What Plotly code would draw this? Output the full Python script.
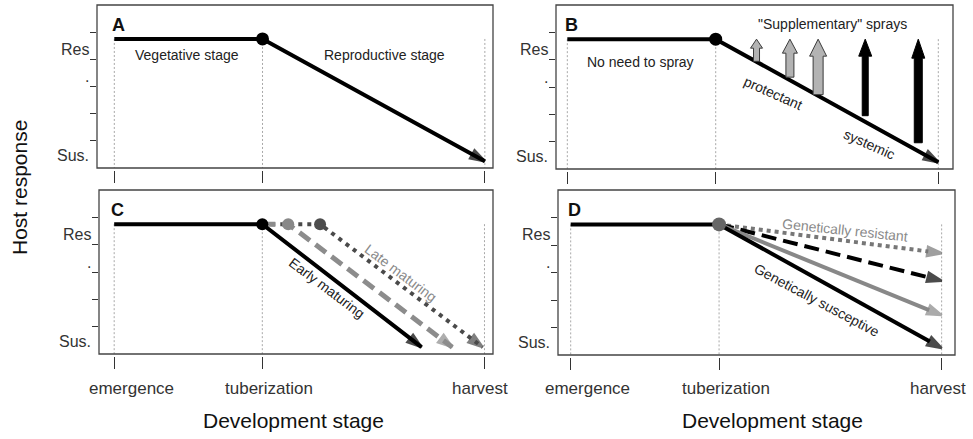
import plotly.graph_objects as go

W, H = 973, 439

# ---------------- data ----------------
stage_labels = ["emergence", "tuberization", "harvest"]
stage_x = [0, 40, 100]
level_labels = ["Res", ".", "Sus."]
level_y = [4.38, 3.35, 0.47]
y_ticks = [1, 2, 3, 4, 5]
RES = 4.75
SUS = 0.25

# Panel A
a_x = [0, 40, 100]
a_y = [RES, RES, SUS]

# Panel B
b_x = [0, 40, 100]
b_y = [RES, RES, SUS]
spray_x = [51, 60, 67.6, 80.3, 94.6]
spray_base = [3.94, 3.36, 2.72, 1.95, 0.96]
spray_top = [4.75, 4.75, 4.75, 4.75, 4.75]
spray_kind = ["protectant", "protectant", "protectant", "systemic", "systemic"]

# Panel C
c_early_x = [0, 40, 83]
c_early_y = [RES, RES, SUS]
c_mid_x = [40, 47, 91.3]
c_mid_y = [RES, RES, SUS]
c_late_x = [40, 55.6, 99.5]
c_late_y = [RES, RES, SUS]

# Panel D
d_base_x = [0, 40]
d_base_y = [RES, RES]
d_end_x = 100
d_end_y = [3.7, 2.7, 1.45, 0.25]   # resistant ... susceptive

# ---------------- layout helpers ----------------
FONT = "Liberation Sans, Arial, sans-serif"
TXT = "#222222"

panels = {
    "A": dict(px=(97, 493), py=(5, 168), xr=(-4.67, 102.2), xa="x", ya="y"),
    "B": dict(px=(556, 953), py=(5, 169), xr=(-3.05, 103.96), xa="x2", ya="y2"),
    "C": dict(px=(99, 493), py=(190, 354), xr=(-4.1, 102.3), xa="x3", ya="y3"),
    "D": dict(px=(558, 955), py=(190, 355), xr=(-3.42, 103.6), xa="x4", ya="y4"),
}
YR = (0, 6)

fig = go.Figure()
layout = dict(width=W, height=H, margin=dict(l=0, r=0, t=0, b=0),
              paper_bgcolor="white", plot_bgcolor="white", showlegend=False,
              font=dict(family=FONT, color=TXT))
shapes = []
annotations = []

for name, p in panels.items():
    xk = "xaxis" + p["xa"][1:]
    yk = "yaxis" + p["ya"][1:]
    xd = [p["px"][0] / W, p["px"][1] / W]
    yd = [1 - p["py"][1] / H, 1 - p["py"][0] / H]
    layout[xk] = dict(domain=xd, range=list(p["xr"]), anchor="free",
                      position=1 - (p["py"][1] + 2) / H,
                      showgrid=False, zeroline=False, showline=False,
                      ticks="outside", ticklen=12, tickwidth=1, tickcolor="#333",
                      tickvals=stage_x, showticklabels=False, fixedrange=True)
    layout[yk] = dict(domain=yd, range=list(YR), anchor=p["xa"],
                      showgrid=False, zeroline=False, showline=False,
                      ticks="outside", ticklen=6, tickwidth=1, tickcolor="#333",
                      tickvals=y_ticks, showticklabels=False, fixedrange=True)
    shapes.append(dict(type="rect", xref=p["xa"] + " domain", yref=p["ya"] + " domain",
                       x0=0, x1=1, y0=0, y1=1, line=dict(color="#444", width=1.3),
                       layer="above"))
    # y level labels
    for lab, yv in zip(level_labels, level_y):
        annotations.append(dict(text=lab, xref=p["xa"] + " domain", x=0, yref=p["ya"], y=yv,
                                xanchor="right", yanchor="middle", xshift=-6, showarrow=False,
                                font=dict(size=16, color="#333")))
    # vertical guide lines at the stages
    gx, gy = [], []
    for s in stage_x:
        gx += [s, s, None]
        gy += [RES, YR[0], None]
    fig.add_trace(go.Scatter(x=gx, y=gy, xaxis=p["xa"], yaxis=p["ya"], mode="lines",
                             line=dict(color="#a8a8a8", width=1, dash="2px,2px"),
                             hoverinfo="skip"))
    # panel letter
    annotations.append(dict(text="<b>%s</b>" % name, xref=p["xa"], yref=p["ya"],
                            x=1.0, y=5.28, xanchor="center", yanchor="middle",
                            showarrow=False, font=dict(size=18, color="#111")))


def arrow_line(x, y, color, width, dash, xa, ya, head=15):
    sizes = [0] * (len(x) - 1) + [head]
    fig.add_trace(go.Scatter(
        x=x, y=y, xaxis=xa, yaxis=ya, mode="lines+markers",
        line=dict(color=color, width=width, dash=dash),
        marker=dict(symbol="arrow", size=sizes, angleref="previous", color=color,
                    line=dict(color=color, width=2.5)),
        hoverinfo="skip"))


def dot(x, y, color, xa, ya, size=13):
    fig.add_trace(go.Scatter(x=[x], y=[y], xaxis=xa, yaxis=ya, mode="markers",
                             marker=dict(symbol="circle", size=size, color=color),
                             hoverinfo="skip"))


def px_to_dx(p, n):
    return n * (p["xr"][1] - p["xr"][0]) / (p["px"][1] - p["px"][0])


def px_to_dy(p, n):
    return n * (YR[1] - YR[0]) / (p["py"][1] - p["py"][0])


def note(text, xa, ya, x, y, angle=0, color=TXT, size=14):
    annotations.append(dict(text=text, xref=xa, yref=ya, x=x, y=y, textangle=angle,
                            xanchor="center", yanchor="middle", showarrow=False,
                            font=dict(size=size, color=color)))


# ---------------- Panel A ----------------
arrow_line(a_x, a_y, "black", 4, "solid", "x", "y")
dot(a_x[1], a_y[1], "black", "x", "y")
note("Vegetative stage", "x", "y", 19.6, 4.16)
note("Reproductive stage", "x", "y", 73, 4.16)

# ---------------- Panel B ----------------
pB = panels["B"]
arrow_line(b_x, b_y, "black", 4, "solid", "x2", "y2")
dot(b_x[1], b_y[1], "black", "x2", "y2")
# (shaft half-width, head half-width, head length) in px
spray_style = [(3, 6, 9), (4, 7.5, 14), (5, 8.5, 17), (3, 6.5, 17), (4, 6.5, 19)]
for xc, yb, yt, kind, (hw, hh, hl) in zip(spray_x, spray_base, spray_top, spray_kind, spray_style):
    dhw, dhh, dhl = px_to_dx(pB, hw), px_to_dx(pB, hh), px_to_dy(pB, hl)
    xs = [xc - dhw, xc - dhw, xc - dhh, xc, xc + dhh, xc + dhw, xc + dhw, xc - dhw]
    ys = [yb, yt - dhl, yt - dhl, yt, yt - dhl, yt - dhl, yb, yb]
    grey = kind == "protectant"
    fig.add_trace(go.Scatter(x=xs, y=ys, xaxis="x2", yaxis="y2", mode="lines",
                             fill="toself", fillcolor="#b3b3b3" if grey else "black",
                             line=dict(color="#3a3a3a" if grey else "black", width=1),
                             hoverinfo="skip"))
note("No need to spray", "x2", "y2", 19.6, 3.9)
note("\"Supplementary\" sprays", "x2", "y2", 71.6, 5.29)
note("protectant", "x2", "y2", 55.4, 2.78, angle=24)
note("systemic", "x2", "y2", 81.3, 0.9, angle=24)

# ---------------- Panel C ----------------
arrow_line(c_late_x, c_late_y, "#4a4a4a", 4, "4px,5px", "x3", "y3")
arrow_line(c_mid_x, c_mid_y, "#8c8c8c", 5, "13px,7px", "x3", "y3")
arrow_line(c_early_x, c_early_y, "black", 4, "solid", "x3", "y3")
dot(c_early_x[1], c_early_y[1], "black", "x3", "y3", 12)
dot(c_mid_x[1], c_mid_y[1], "#888888", "x3", "y3", 12)
dot(c_late_x[1], c_late_y[1], "#4d4d4d", "x3", "y3", 12)
note("Early maturing", "x3", "y3", 57.5, 2.43, angle=37)
note("Late maturing", "x3", "y3", 77.4, 2.97, angle=37, color="#8a8a8a")

# ---------------- Panel D ----------------
fig.add_trace(go.Scatter(x=d_base_x, y=d_base_y, xaxis="x4", yaxis="y4", mode="lines",
                         line=dict(color="black", width=4), hoverinfo="skip"))
d_styles = [("#777777", "4px,4px"), ("black", "15px,7px"), ("#888888", "solid"), ("black", "solid")]
for ye, (col, dsh) in zip(d_end_y, d_styles):
    arrow_line([d_base_x[1], d_end_x], [RES, ye], col, 4, dsh, "x4", "y4")
dot(d_base_x[1], RES, "#666666", "x4", "y4", 14)
note("Genetically resistant", "x4", "y4", 73.9, 4.54, angle=6, color="#8a8a8a")
note("Genetically susceptive", "x4", "y4", 66.3, 1.99, angle=28)

# ---------------- stage labels & titles ----------------
label_shift = [17, 7, -4]
for xa in ["x3", "x4"]:
    for lab, sx, sh in zip(stage_labels, stage_x, label_shift):
        annotations.append(dict(text=lab, xref=xa, x=sx, yref="paper", y=1 - 388 / H,
                                xanchor="center", yanchor="middle", xshift=sh, showarrow=False,
                                font=dict(size=17, color="#333")))

for xc in [293, 772]:
    annotations.append(dict(text="Development stage", xref="paper", yref="paper",
                            x=xc / W, y=1 - 420 / H, xanchor="center", yanchor="middle",
                            showarrow=False, font=dict(size=21, color="#111")))
annotations.append(dict(text="Host response", xref="paper", yref="paper", x=19 / W,
                        y=1 - 188 / H, xanchor="center", yanchor="middle",
                        textangle=-90, showarrow=False, font=dict(size=21, color="#111")))

layout["shapes"] = shapes
layout["annotations"] = annotations
fig.update_layout(**layout)
fig.write_html("out.html", config={"displayModeBar": False},
               post_script="document.body.style.margin='0';document.body.style.overflow='hidden';")
